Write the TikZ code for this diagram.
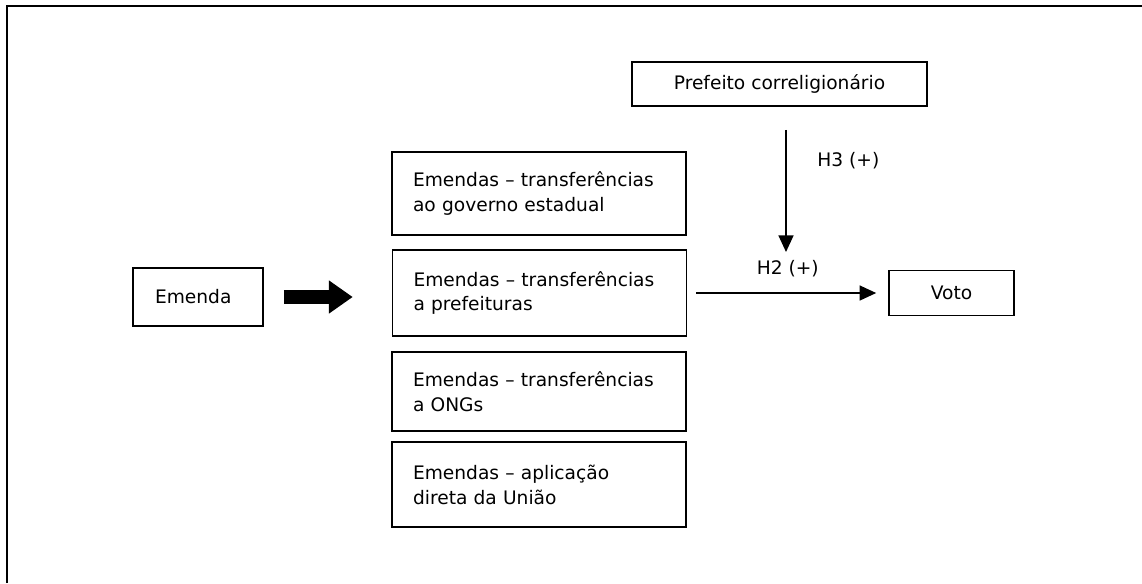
\documentclass[tikz,border=0pt]{standalone}
\usepackage{fontspec}
\setmainfont{DejaVu Sans}
\usetikzlibrary{arrows.meta}
\tikzset{block/.style = {draw, fill=white, line width=0.9pt, rectangle, font=\fontsize{10.6}{14.2}\selectfont},
         lblock/.style = {block, align=left, text width=5.04cm, inner xsep=0.42cm, minimum width=5.88cm},
         arr/.style = {line width=1.1pt, -{Triangle[length=9.5pt,width=8.5pt]}},
         bigarr/.style = {line width=8pt, -{Triangle[length=13.6pt,width=18pt]}}}

\begin{document}
\begin{tikzpicture}[x=0.02cm,y=-0.02cm]
        \useasboundingbox (0,0) rectangle (1142,583);
        \draw[line width=1.3pt](7,583)--(7,6)--(1142,6);
        % caixas
        \node[block, align=left, text width=1.72cm, inner xsep=0.44cm, minimum height=1.16cm](emenda)at(198,297){Emenda};
        \node[lblock, minimum height=1.66cm](estadual)at(539,193.5){Emendas – transferências\\ao governo estadual};
        \node[lblock, minimum height=1.72cm](prefeituras)at(539.5,293){Emendas – transferências\\a prefeituras};
        \node[lblock, minimum height=1.58cm](ongs)at(539,391.5){Emendas – transferências\\a ONGs};
        \node[lblock, minimum height=1.70cm](uniao)at(539,484.5){Emendas – aplicação\\direta da União};
        \node[block, minimum width=5.9cm, minimum height=0.88cm](prefeito)at(779.5,84){Prefeito correligionário};
        \node[block, minimum width=2.5cm, minimum height=0.9cm](voto)at(951.5,293){Voto};
        \coordinate(h3end)at(786,252);
        % setas
        \draw[bigarr, shorten <=0.4cm, shorten >=0.78cm](emenda.east)--(emenda.east -| prefeituras.west);
        \draw[arr, shorten <=0.18cm, shorten >=0.24cm](prefeituras)--(voto)
            node[midway, above=5pt, font=\fontsize{10.6}{14.2}\selectfont]{H2 (+)};
        \draw[arr, shorten <=0.46cm](prefeito.south -| h3end)--(h3end)
            node[pos=0.37, right=14pt, font=\fontsize{10.6}{14.2}\selectfont]{H3 (+)};
\end{tikzpicture}
\end{document}
